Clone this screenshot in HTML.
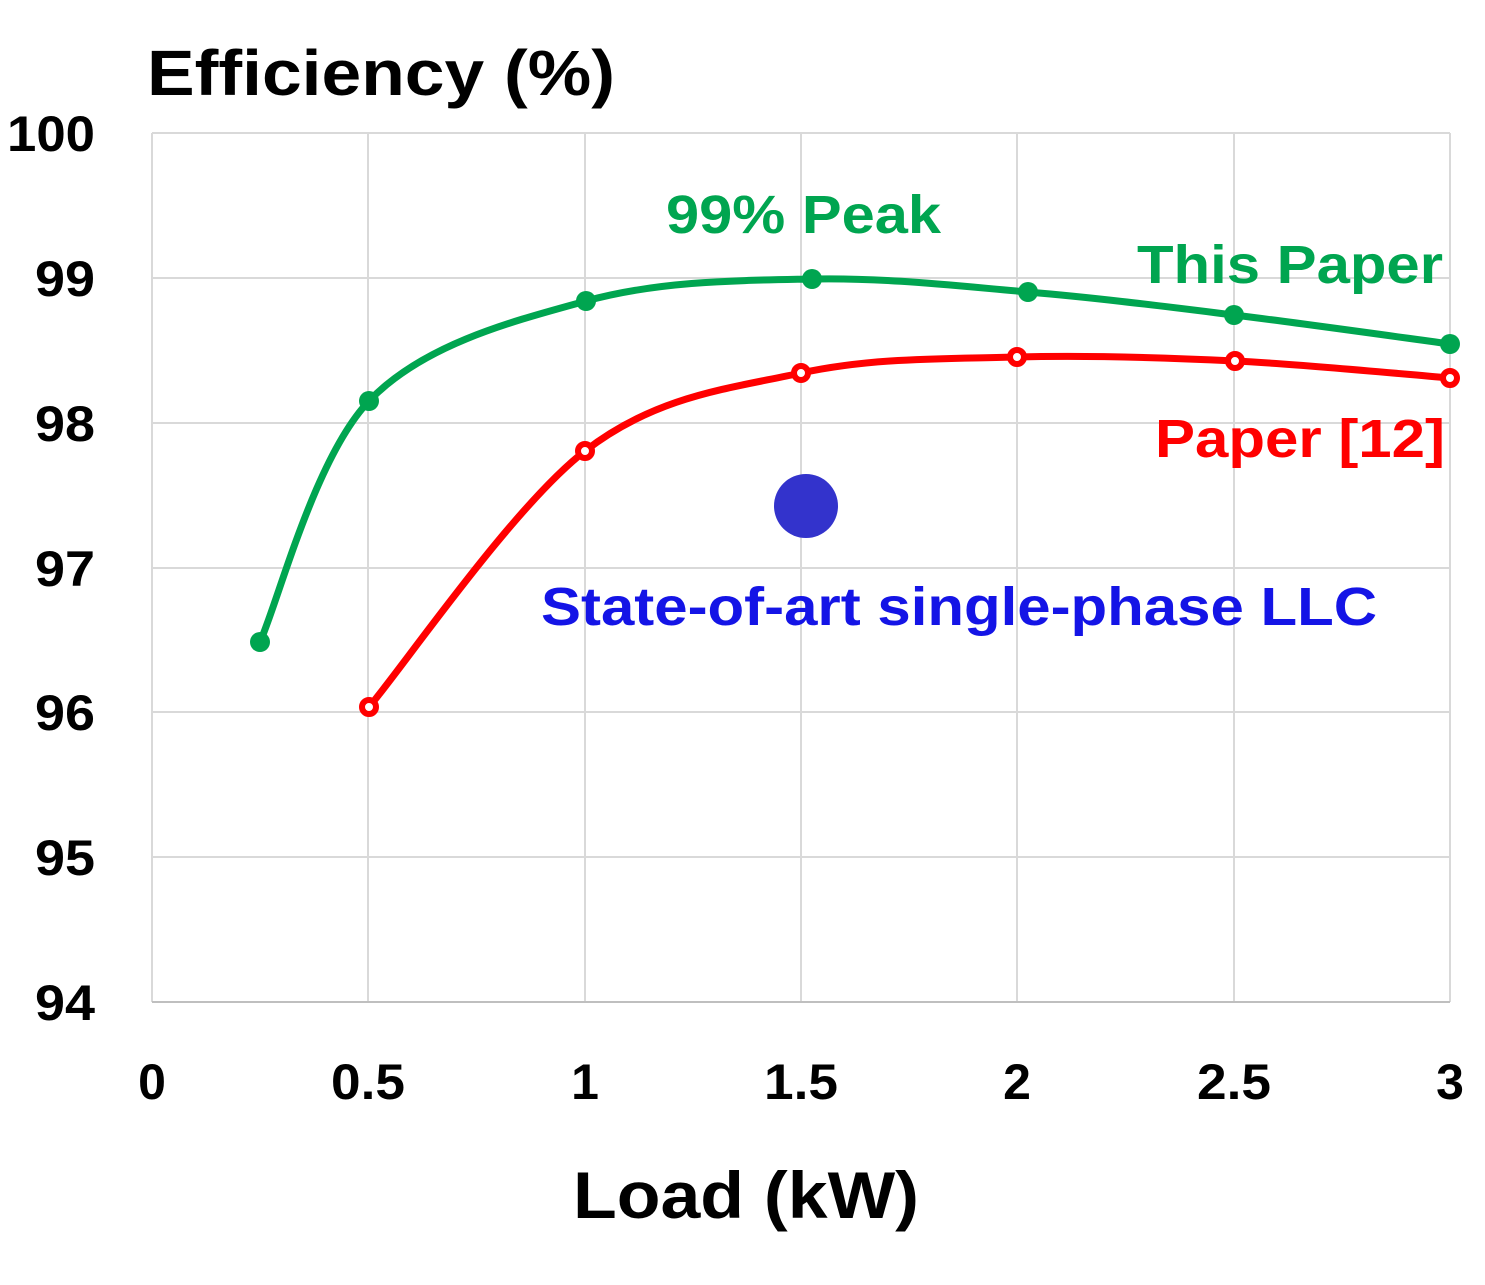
<!DOCTYPE html>
<html><head><meta charset="utf-8"><style>
html,body{margin:0;padding:0;background:#fff;}
svg text{font-family:"Liberation Sans",sans-serif;font-weight:bold;}
</style></head><body>
<svg id="s" width="1485" height="1280" viewBox="0 0 1485 1280" xmlns="http://www.w3.org/2000/svg">
<g stroke="#d9d9d9" stroke-width="2" fill="none">
<line x1="152" y1="133" x2="1450" y2="133"/>
<line x1="152" y1="278" x2="1450" y2="278"/>
<line x1="152" y1="423" x2="1450" y2="423"/>
<line x1="152" y1="568" x2="1450" y2="568"/>
<line x1="152" y1="712" x2="1450" y2="712"/>
<line x1="152" y1="857" x2="1450" y2="857"/>
<line x1="152" y1="133" x2="152" y2="1002"/>
<line x1="368" y1="133" x2="368" y2="1002"/>
<line x1="585" y1="133" x2="585" y2="1002"/>
<line x1="801" y1="133" x2="801" y2="1002"/>
<line x1="1017" y1="133" x2="1017" y2="1002"/>
<line x1="1234" y1="133" x2="1234" y2="1002"/>
<line x1="1450" y1="133" x2="1450" y2="1002"/>
</g>
<line x1="152" y1="1002" x2="1450" y2="1002" stroke="#bfbfbf" stroke-width="2"/>
<g font-size="50" fill="#000" lengthAdjust="spacingAndGlyphs">
<text x="7" y="151" textLength="88" lengthAdjust="spacingAndGlyphs">100</text>
<text x="35" y="296" textLength="60" lengthAdjust="spacingAndGlyphs">99</text>
<text x="35" y="441" textLength="60" lengthAdjust="spacingAndGlyphs">98</text>
<text x="35" y="586" textLength="60" lengthAdjust="spacingAndGlyphs">97</text>
<text x="35" y="730" textLength="60" lengthAdjust="spacingAndGlyphs">96</text>
<text x="35" y="875" textLength="60" lengthAdjust="spacingAndGlyphs">95</text>
<text x="35" y="1020" textLength="60" lengthAdjust="spacingAndGlyphs">94</text>
</g>
<g font-size="50" text-anchor="middle" fill="#000">
<text x="152" y="1099">0</text>
<text x="368" y="1099" textLength="74" lengthAdjust="spacingAndGlyphs">0.5</text>
<text x="585" y="1099">1</text>
<text x="801" y="1099" textLength="74" lengthAdjust="spacingAndGlyphs">1.5</text>
<text x="1017" y="1099">2</text>
<text x="1234" y="1099" textLength="74" lengthAdjust="spacingAndGlyphs">2.5</text>
<text x="1450" y="1099">3</text>
</g>
<text x="147" y="95" font-size="64" textLength="468" lengthAdjust="spacingAndGlyphs">Efficiency (%)</text>
<text x="573" y="1218" font-size="66" textLength="346" lengthAdjust="spacingAndGlyphs">Load (kW)</text>
<path id="g" fill="none" stroke="#00a550" stroke-width="7"/>
<path id="r" fill="none" stroke="#ff0000" stroke-width="7"/>
<g id="gm" fill="#00a550"></g>
<g id="rm"></g>
<circle cx="806" cy="506" r="32" fill="#3333cc"/>
<text x="666" y="233" font-size="54" fill="#00a550" textLength="275" lengthAdjust="spacingAndGlyphs">99% Peak</text>
<text x="1137" y="283" font-size="54" fill="#00a550" textLength="306" lengthAdjust="spacingAndGlyphs">This Paper</text>
<text x="1155" y="457" font-size="54" fill="#ff0000" textLength="290" lengthAdjust="spacingAndGlyphs">Paper [12]</text>
<text x="541" y="625" font-size="54" fill="#1414e6" textLength="836" lengthAdjust="spacingAndGlyphs">State-of-art single-phase LLC</text>
</svg>
<script>
function path(p){var d="M"+p[0][0]+","+p[0][1];for(var i=0;i<p.length-1;i++){var p0=p[i-1]||p[i],p1=p[i],p2=p[i+1],p3=p[i+2]||p2;var t=6;d+=" C"+(p1[0]+(p2[0]-p0[0])/t)+","+(p1[1]+(p2[1]-p0[1])/t)+" "+(p2[0]-(p3[0]-p1[0])/t)+","+(p2[1]-(p3[1]-p1[1])/t)+" "+p2[0]+","+p2[1];}return d;}
var G=[[260,642],[369,401],[586,301],[812,279],[1028,292],[1234,315],[1450,344]];
var R=[[369,707],[585,451],[801,373],[1017,357],[1235,361],[1450,378]];
document.getElementById("g").setAttribute("d",path(G));
document.getElementById("r").setAttribute("d",path(R));
var ns="http://www.w3.org/2000/svg";
G.forEach(function(p){var c=document.createElementNS(ns,"circle");c.setAttribute("cx",p[0]);c.setAttribute("cy",p[1]);c.setAttribute("r",10);document.getElementById("gm").appendChild(c);});
R.forEach(function(p){var c=document.createElementNS(ns,"circle");c.setAttribute("cx",p[0]);c.setAttribute("cy",p[1]);c.setAttribute("r",7);c.setAttribute("fill","#fff");c.setAttribute("stroke","#ff0000");c.setAttribute("stroke-width",6);document.getElementById("rm").appendChild(c);});
</script>
</body></html>
